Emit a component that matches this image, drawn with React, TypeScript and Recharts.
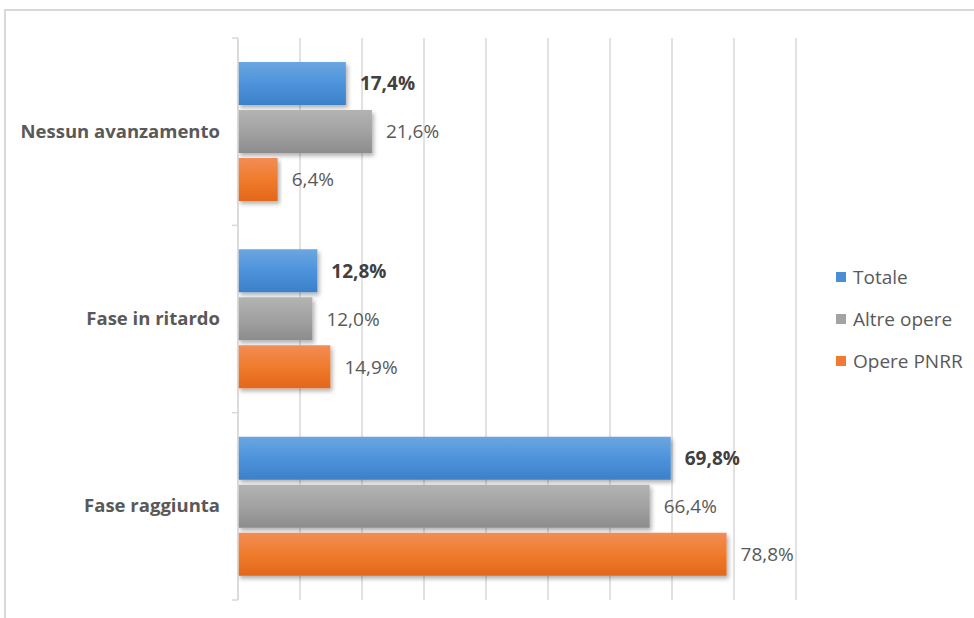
import { Bar, BarChart, CartesianGrid, LabelList, XAxis, YAxis } from 'recharts';

const categories = ['Nessun avanzamento', 'Fase in ritardo', 'Fase raggiunta'];
const totale = [17.4, 12.8, 69.8];
const altreOpere = [21.6, 12.0, 66.4];
const operePnrr = [6.4, 14.9, 78.8];
const xTicks = [0, 10, 20, 30, 40, 50, 60, 70, 80, 90];

const series = [
  { key: 'totale', name: 'Totale', grad: 'gBlue', swatch: '#4a8fd6', bold: true },
  { key: 'altre', name: 'Altre opere', grad: 'gGray', swatch: '#a3a3a3', bold: false },
  { key: 'pnrr', name: 'Opere PNRR', grad: 'gOrange', swatch: '#f07a30', bold: false },
];

const data = categories.map((name, i) => ({
  name,
  totale: totale[i],
  altre: altreOpere[i],
  pnrr: operePnrr[i],
}));

const fmt = (v: any) => `${Number(v).toFixed(1).replace('.', ',')}%`;

const CategoryTick = (props: any) => {
  const { x, y, payload, index, visibleTicksCount } = props;
  const half = payload.offset || 0;
  return (
    <g>
      <line x1={x + 2} x2={x + 8} y1={y - half} y2={y - half} stroke="#d9d9d9" strokeWidth={1.5} />
      {index === visibleTicksCount - 1 && (
        <line x1={x + 2} x2={x + 8} y1={y + half} y2={y + half} stroke="#d9d9d9" strokeWidth={1.5} />
      )}
      <text x={x - 10} y={y} dy={6} textAnchor="end" fill="#595959" fontSize={18.5} fontWeight={700}>
        {payload.value}
      </text>
    </g>
  );
};

const LegendBox = () => (
  <div style={{ position: 'absolute', left: 836, top: 256 }}>
    {series.map(s => (
      <div key={s.key} style={{ display: 'flex', alignItems: 'center', height: 42, color: '#595959', fontSize: 19 }}>
        <span style={{ width: 10, height: 10, background: s.swatch, marginRight: 7 }} />
        {s.name}
      </div>
    ))}
  </div>
);

export default function App() {
  return (
    <div style={{ position: 'absolute', left: 0, top: 0, width: 974, height: 618, fontFamily: '"Open Sans", sans-serif', background: '#fff', overflow: 'hidden' }}>
      <div style={{ position: 'absolute', left: 4, top: 9, width: 980, height: 620, border: '2px solid #d9d9d9' }} />
      <BarChart
        width={974}
        height={618}
        data={data}
        layout="vertical"
        margin={{ top: 38, right: 178, bottom: 18, left: 0 }}
        barCategoryGap={24}
        barGap={5}
      >
        <defs>
          <linearGradient id="gBlue" x1="0" y1="0" x2="0" y2="1">
            <stop offset="0%" stopColor="#6ba6e0" />
            <stop offset="50%" stopColor="#4d93dc" />
            <stop offset="100%" stopColor="#3b80c8" />
          </linearGradient>
          <linearGradient id="gGray" x1="0" y1="0" x2="0" y2="1">
            <stop offset="0%" stopColor="#b3b3b3" />
            <stop offset="50%" stopColor="#a2a2a2" />
            <stop offset="100%" stopColor="#8c8c8c" />
          </linearGradient>
          <linearGradient id="gOrange" x1="0" y1="0" x2="0" y2="1">
            <stop offset="0%" stopColor="#f28d55" />
            <stop offset="50%" stopColor="#f07b2c" />
            <stop offset="100%" stopColor="#e2671a" />
          </linearGradient>
          <filter id="shadow" x="-5%" y="-20%" width="115%" height="160%">
            <feDropShadow dx="2" dy="3" stdDeviation="2" floodColor="#000" floodOpacity="0.3" />
          </filter>
        </defs>
        <CartesianGrid horizontal={false} stroke="#d9d9d9" strokeWidth={1.5} />
        <XAxis type="number" domain={[0, 90]} ticks={xTicks} hide />
        <YAxis
          type="category"
          dataKey="name"
          width={238}
          axisLine={{ stroke: '#d9d9d9', strokeWidth: 1.5 }}
          tickLine={false}
          tick={<CategoryTick />}
          interval={0}
        />
        {series.map(s => (
          <Bar
            key={s.key}
            dataKey={s.key}
            name={s.name}
            fill={`url(#${s.grad})`}
            filter="url(#shadow)"
            isAnimationActive={false}
          >
            <LabelList
              dataKey={s.key}
              position="right"
              offset={14}
              formatter={fmt}
              fill={s.bold ? '#404040' : '#595959'}
              fontSize={19}
              fontWeight={s.bold ? 700 : 400}
            />
          </Bar>
        ))}
      </BarChart>
      <LegendBox />
    </div>
  );
}
